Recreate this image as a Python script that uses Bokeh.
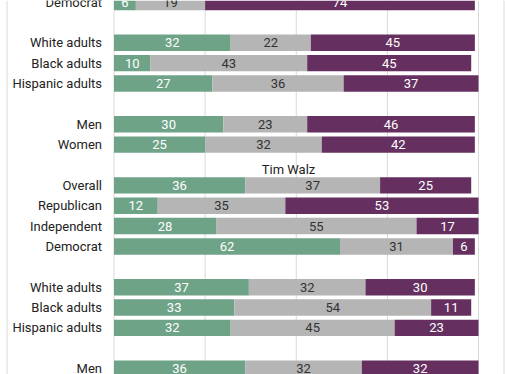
from bokeh.plotting import figure
from bokeh.models import ColumnDataSource, Range1d, Span
from bokeh.core.properties import value
from bokeh.embed import file_html
from bokeh.resources import INLINE

# ---- data (rows top to bottom; "" marks a spacer row) ----
labels = ["Democrat", "", "White adults", "Black adults", "Hispanic adults", "",
          "Men", "Women", "", "Overall", "Republican", "Independent", "Democrat", "",
          "White adults", "Black adults", "Hispanic adults", "", "Men"]
favorable = [6, None, 32, 10, 27, None, 30, 25, None, 36, 12, 28, 62, None, 37, 33, 32, None, 36]
neither = [19, None, 22, 43, 36, None, 23, 32, None, 37, 35, 55, 31, None, 32, 54, 45, None, 32]
unfavorable = [74, None, 45, 45, 37, None, 46, 42, None, 25, 53, 17, 6, None, 30, 11, 23, None, 32]
section_title = "Tim Walz"
section_title_row = 8
grid_ticks = [0, 25, 50, 75, 100]

GREEN = "#6ea388"
GRAY = "#b5b5b5"
PURPLE = "#65305f"
FONT = "Roboto"

W, H = 505, 374
# pixel geometry (page coords; bokeh page has no body margin)
x0_px, px_per = 113.5, 3.645
row0_px, row_px = 1.5, 20.37
xs = (0 - x0_px) / px_per
xe = (W - x0_px) / px_per
ys = (H - row0_px) / row_px
ye = (0 - row0_px) / row_px

p = figure(width=W, height=H, output_backend="svg", toolbar_location=None,
           x_range=Range1d(xs, xe), y_range=Range1d(ys, ye),
           x_axis_location=None, y_axis_location=None, min_border=0,
           outline_line_color=None, background_fill_color="white")
p.xgrid.visible = False
p.ygrid.visible = False

for t in grid_ticks:
    p.add_layout(Span(location=t, dimension="height", line_color="#d9d9d9",
                      line_width=1, level="underlay"))
# panel borders
for bx in (6.5, 503.5):
    p.add_layout(Span(location=(bx - x0_px) / px_per, dimension="height",
                      line_color="#d9d9d9", line_width=1, level="underlay"))

rows = [i for i, l in enumerate(labels) if l]
y = rows
f = [favorable[i] for i in rows]
n = [neither[i] for i in rows]
u = [unfavorable[i] for i in rows]
f_end = f
n_end = [a + b for a, b in zip(f, n)]
u_end = [a + b for a, b in zip(n_end, u)]

bh = 0.805
src = ColumnDataSource(dict(
    y=y, lab=[labels[i] for i in rows],
    f0=[0] * len(y), f1=f_end, n1=n_end, u1=u_end,
    fc=[a / 2 for a in f_end], nc=[(a + b) / 2 for a, b in zip(f_end, n_end)],
    uc=[(a + b) / 2 for a, b in zip(n_end, u_end)],
    ft=[str(v) for v in f], nt=[str(v) for v in n], ut=[str(v) for v in u],
))

p.hbar(y="y", left="f0", right="f1", height=bh, fill_color=GREEN, line_color=None, source=src)
p.hbar(y="y", left="f1", right="n1", height=bh, fill_color=GRAY, line_color=None, source=src)
p.hbar(y="y", left="n1", right="u1", height=bh, fill_color=PURPLE, line_color=None, source=src)

common = dict(text_font=value(FONT), text_font_size="13px", text_baseline="middle",
              text_align="center", source=src)
p.text(x="fc", y="y", text="ft", text_color="white", **common)
p.text(x="nc", y="y", text="nt", text_color="#333333", **common)
p.text(x="uc", y="y", text="ut", text_color="white", **common)

lab_x = (101.5 - x0_px) / px_per
p.text(x=lab_x, y="y", text="lab", text_color="#222222", text_font=value(FONT),
       text_font_size="13px", text_baseline="middle", text_align="right", source=src)

p.text(x=[(288 - x0_px) / px_per], y=[section_title_row + 0.22], text=[section_title],
       text_color="#222222", text_font=value(FONT), text_font_size="13px",
       text_baseline="middle", text_align="center")

open("out.html", "w").write(file_html(p, INLINE))
